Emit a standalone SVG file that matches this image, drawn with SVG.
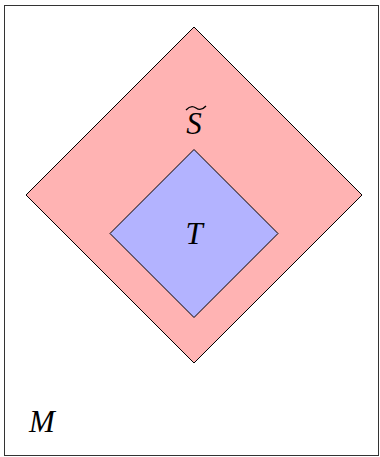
<svg xmlns="http://www.w3.org/2000/svg" width="380" height="457" viewBox="0 0 380 457">
<style>
.lbl{font-family:"Liberation Serif","Times New Roman",serif;font-style:italic;font-size:31px;fill:#000;text-anchor:middle}
.d{stroke:#000;stroke-width:1}
</style>
<rect x="0" y="0" width="380" height="457" fill="#fff"/>
<g id="frame"><rect x="4.5" y="5.5" width="374" height="450" fill="none" stroke="#333" stroke-width="1"/></g>
<g id="S">
<polygon class="d" points="194,27 362,195 194,363 26,195" fill="#ffb3b3"/>
<text class="lbl" x="194" y="134">S</text>
<path d="M186,110 Q191,104.5 196,108 Q201,111.5 206,106" fill="none" stroke="#000" stroke-width="1.3"/>
</g>
<g id="T">
<polygon class="d" points="194,149.5 278,233.5 194,317.5 110,233.5" fill="#b3b3ff"/>
<text class="lbl" x="194" y="244">T</text>
</g>
<g id="M"><text class="lbl" x="42" y="432">M</text></g>
</svg>
